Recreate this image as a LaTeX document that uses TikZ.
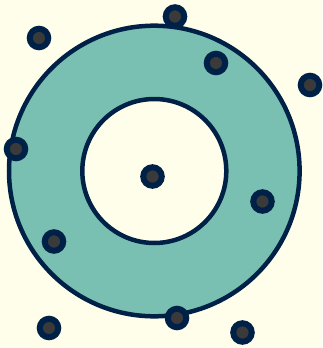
\documentclass[tikz,border=0pt]{standalone}
\usepackage{tikz}
\usetikzlibrary{positioning}
\usepackage{xcolor}

\definecolor{bgcream}{HTML}{FFFEEB}
\definecolor{ringteal}{HTML}{79C0B2}
\definecolor{inknavy}{HTML}{002147}
\definecolor{dotgray}{HTML}{3A3A3A}

\tikzset{
    ringline/.style={draw=inknavy, line width=4.5pt},
    dotmark/.style={circle, fill=dotgray, draw=inknavy, line width=6pt, minimum size=18.5pt, inner sep=0pt}
}

\begin{document}
\begin{tikzpicture}[x=1pt, y=-1pt]
            % Canvas
            \fill[bgcream] (0,0) rectangle (322,348);
            \useasboundingbox (0,0) rectangle (322,348);
            
            % Ring
            \draw[ringline, fill=ringteal] (154.3,171) circle (145.3);
            \draw[ringline, fill=bgcream] (154.3,171) circle (72);
            
            % Points
            \node[dotmark] (p1) at (39,38) {};
            \node[dotmark] (p2) at (175,16.5) {};
            \node[dotmark] (p3) at (216,63) {};
            \node[dotmark] (p4) at (310,85) {};
            \node[dotmark] (p5) at (16,149) {};
            \node[dotmark] (p6) at (152.5,176.5) {};
            \node[dotmark] (p7) at (262.5,201.5) {};
            \node[dotmark] (p8) at (54,241.5) {};
            \node[dotmark] (p9) at (177,318) {};
            \node[dotmark] (p10) at (49,328) {};
            \node[dotmark] (p11) at (242.5,332.5) {};
        \end{tikzpicture}
\end{document}
